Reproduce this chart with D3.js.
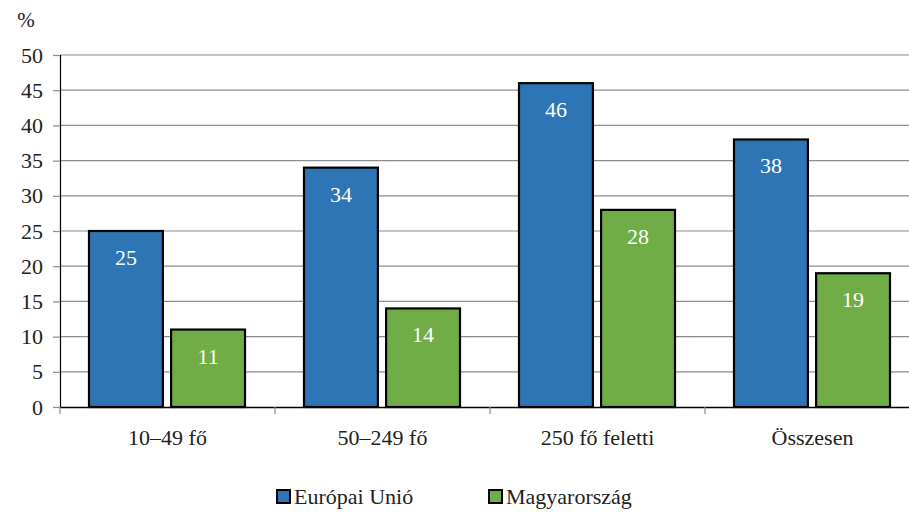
<!DOCTYPE html>
<html><head><meta charset="utf-8">
<script src="https://cdn.jsdelivr.net/npm/d3@7"></script>
</head><body style="margin:0">
<svg id="c" width="909" height="512" font-family="Liberation Serif, serif"></svg>
<script>
const categories = ["10–49 fő","50–249 fő","250 fő feletti","Összesen"];
const seriesNames = ["Európai Unió","Magyarország"];
const euValues = [25,34,46,38];
const huValues = [11,14,28,19];
const yTicks = [0,5,10,15,20,25,30,35,40,45,50];
const colors = ["#2E75B6","#70AD47"];
const FONT = "Liberation Serif, serif";

const svg = d3.select("#c");
const x0 = 60, x1 = 920, yTop = 55, yBot = 407;
const x = d3.scaleBand().domain(categories).range([x0,x1]);
const xs = d3.scaleBand().domain(seriesNames).range([29, x.bandwidth()-30]).paddingInner(0.1);
const y = d3.scaleLinear().domain([0,50]).range([yBot,yTop]);

// gridlines
svg.append("g").selectAll("line").data(yTicks.filter(d=>d>0)).join("line")
  .attr("x1",x0).attr("x2",x1).attr("y1",d=>y(d)).attr("y2",d=>y(d))
  .attr("stroke","#8c8c8c").attr("stroke-width",1.2);

// y axis
const ya = svg.append("g").attr("transform",`translate(${x0},0)`)
  .call(d3.axisLeft(y).tickValues(yTicks).tickSize(7).tickPadding(10))
  .attr("font-family",FONT).attr("font-size",22);
ya.select(".domain").attr("stroke","#000").attr("stroke-width",1.2);
ya.selectAll(".tick line").attr("stroke","#8c8c8c").attr("stroke-width",1.2);
ya.selectAll("text").attr("fill","#222");

// x axis
const xa = svg.append("g").attr("transform",`translate(0,${yBot})`)
  .call(d3.axisBottom(x).tickSize(0).tickPadding(22))
  .attr("font-family",FONT).attr("font-size",22);
xa.select(".domain").attr("stroke","#000").attr("stroke-width",1.4);
xa.selectAll("text").attr("fill","#222");
svg.append("g").selectAll("line").data(categories).join("line")
  .attr("x1",d=>x(d)).attr("x2",d=>x(d)).attr("y1",yBot).attr("y2",yBot+7)
  .attr("stroke","#8c8c8c").attr("stroke-width",1.2);

// bars
const data = [];
categories.forEach((c,i)=>{
  data.push({c, s:seriesNames[0], v:euValues[i], col:colors[0]});
  data.push({c, s:seriesNames[1], v:huValues[i], col:colors[1]});
});
const g = svg.append("g").attr("font-family",FONT).attr("font-size",22);
g.selectAll("rect").data(data).join("rect")
  .attr("x",d=>x(d.c)+xs(d.s)).attr("width",xs.bandwidth())
  .attr("y",d=>y(d.v)).attr("height",d=>y(0)-y(d.v))
  .attr("fill",d=>d.col).attr("stroke","#000").attr("stroke-width",2.2);
g.selectAll("text").data(data).join("text")
  .attr("x",d=>x(d.c)+xs(d.s)+xs.bandwidth()/2).attr("y",d=>y(d.v)+34)
  .attr("text-anchor","middle").attr("fill","#fff")
  .text(d=>d.v);

// y unit
svg.append("text").attr("x",26).attr("y",27).attr("text-anchor","middle")
  .attr("font-family",FONT).attr("font-size",21).attr("fill","#222").text("%");

// legend
const legX = [277,489];
const lg = svg.append("g").attr("font-family",FONT).attr("font-size",22)
  .selectAll("g").data(seriesNames).join("g")
  .attr("transform",(d,i)=>`translate(${legX[i]},490)`);
lg.append("rect").attr("width",13).attr("height",13).attr("fill",(d,i)=>colors[i]).attr("stroke","#000").attr("stroke-width",2);
lg.append("text").attr("x",17).attr("y",14).attr("fill","#222").text(d=>d);
</script></body></html>
